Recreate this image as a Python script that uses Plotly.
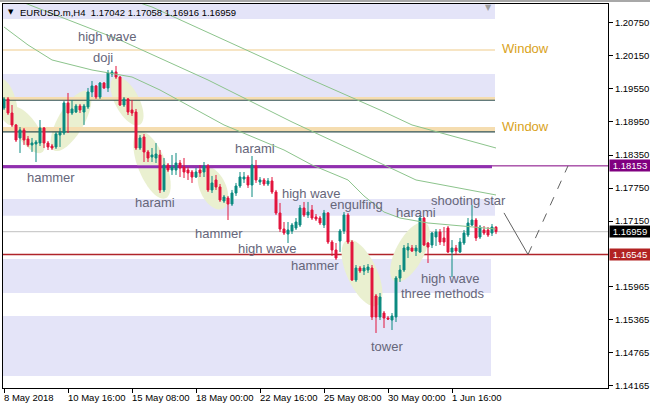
import math
import plotly.graph_objects as go

# ---------------- data ----------------
bars = list(range(124))
opens = [1.19203,1.19366,1.19112,1.18895,1.18659,1.18804,1.18641,1.18532,1.18550,1.18568,
         1.18840,1.18568,1.18514,1.18496,1.18713,1.18749,1.19294,1.19112,1.19130,1.19239,
         1.19130,1.19221,1.19493,1.19602,1.19402,1.19656,1.19566,1.19820,1.19856,1.19765,
         1.19257,1.19366,1.19167,1.19130,1.18477,1.18677,1.18405,1.18314,1.18296,1.18350,
         1.17716,1.18169,1.18078,1.18078,1.18205,1.18133,1.18078,1.18042,1.17951,1.18078,
         1.18042,1.18151,1.17716,1.17897,1.17770,1.17516,1.17570,1.17461,1.17661,1.17788,
         1.17915,1.17951,1.17806,1.18151,1.17861,1.17897,1.17824,1.17879,1.17679,1.17298,
         1.17008,1.16917,1.16972,1.17026,1.17080,1.17389,1.17262,1.17353,1.17226,1.17207,
         1.17080,1.17298,1.16772,1.16627,1.16790,1.16972,1.17262,1.16772,1.16083,1.16300,
         1.16246,1.16264,1.16300,1.15793,1.15412,1.15484,1.15393,1.15357,1.15412,1.16119,
         1.16264,1.16627,1.16663,1.16609,1.16591,1.17207,1.16754,1.16718,1.16863,1.16954,
         1.16845,1.17026,1.16591,1.16663,1.16591,1.16754,1.16899,1.17080,1.17171,1.16863,
         1.16990,1.16990,1.16935,1.17042]
highs = [1.19402,1.19402,1.19257,1.18913,1.18858,1.18840,1.18695,1.18659,1.18622,1.18985,
         1.18858,1.18604,1.18550,1.18768,1.18840,1.19330,1.19475,1.19348,1.19276,1.19276,
         1.19276,1.19566,1.19693,1.19620,1.19674,1.19674,1.19892,1.19892,1.19965,1.19783,
         1.19402,1.19384,1.19348,1.19185,1.18713,1.18731,1.18441,1.18477,1.18568,1.18441,
         1.18296,1.18205,1.18350,1.18387,1.18260,1.18296,1.18133,1.18078,1.18115,1.18169,
         1.18223,1.18187,1.17970,1.17988,1.17824,1.17625,1.17607,1.17716,1.17843,1.18042,
         1.18042,1.17988,1.18332,1.18260,1.17951,1.17933,1.17933,1.17951,1.17716,1.17480,
         1.17135,1.17135,1.17117,1.17207,1.17443,1.17498,1.17498,1.17443,1.17280,1.17244,
         1.17353,1.17316,1.16808,1.16754,1.17008,1.17316,1.17298,1.16808,1.16355,1.16337,
         1.16355,1.16373,1.16355,1.15829,1.15847,1.15520,1.15430,1.15484,1.16155,1.16355,
         1.16718,1.16754,1.16718,1.16718,1.17262,1.17226,1.16772,1.16954,1.17008,1.17008,
         1.17044,1.17062,1.16808,1.16718,1.16845,1.16990,1.17207,1.17443,1.17207,1.17080,
         1.17062,1.17044,1.17099,1.17058]
lows = [1.19167,1.19076,1.18858,1.18586,1.18387,1.18532,1.18496,1.18405,1.18223,1.18514,
        1.18477,1.18441,1.18441,1.18459,1.18496,1.18713,1.18749,1.19076,1.19112,1.19112,
        1.18895,1.19185,1.19402,1.19366,1.19366,1.19548,1.19493,1.19765,1.19729,1.19239,
        1.19221,1.19076,1.19058,1.18441,1.18441,1.18223,1.18223,1.18223,1.18205,1.17661,
        1.17679,1.18042,1.17988,1.17988,1.17951,1.17933,1.17897,1.17843,1.17933,1.17951,
        1.17951,1.17679,1.17661,1.17716,1.17498,1.17480,1.17171,1.17425,1.17607,1.17752,
        1.17843,1.17752,1.17588,1.17843,1.17806,1.17788,1.17788,1.17643,1.17262,1.16954,
        1.16899,1.16754,1.16917,1.16990,1.17044,1.17226,1.17207,1.17171,1.17153,1.17080,
        1.17026,1.16736,1.16518,1.16446,1.16591,1.16917,1.16736,1.16065,1.16047,1.16210,
        1.16173,1.16210,1.15357,1.15122,1.15357,1.15212,1.15357,1.15176,1.15321,1.16047,
        1.16228,1.16482,1.16591,1.16518,1.16573,1.16700,1.16391,1.16663,1.16700,1.16718,
        1.16700,1.16573,1.16137,1.16554,1.16573,1.16718,1.16863,1.17062,1.16790,1.16827,
        1.16899,1.16863,1.16881,1.16916]
closes = [1.19366,1.19112,1.18895,1.18622,1.18804,1.18622,1.18532,1.18568,1.18586,1.18840,
          1.18568,1.18496,1.18477,1.18731,1.18768,1.19294,1.19112,1.19185,1.19239,1.19167,
          1.19239,1.19493,1.19602,1.19402,1.19656,1.19566,1.19838,1.19856,1.19765,1.19257,
          1.19366,1.19130,1.19112,1.18477,1.18659,1.18405,1.18296,1.18350,1.18368,1.17716,
          1.18169,1.18078,1.18133,1.18205,1.18115,1.18042,1.18024,1.17951,1.18042,1.18024,
          1.18151,1.17716,1.17843,1.17770,1.17534,1.17588,1.17461,1.17661,1.17788,1.17951,
          1.17951,1.17806,1.18169,1.17897,1.17897,1.17824,1.17879,1.17679,1.17298,1.17008,
          1.16935,1.16990,1.17080,1.17135,1.17389,1.17262,1.17316,1.17207,1.17189,1.17117,
          1.17298,1.16772,1.16627,1.16482,1.16972,1.17262,1.16772,1.16083,1.16300,1.16246,
          1.16300,1.16318,1.15412,1.15412,1.15774,1.15393,1.15375,1.15430,1.16119,1.16264,
          1.16663,1.16681,1.16609,1.16663,1.17207,1.16718,1.16681,1.16935,1.16954,1.16772,
          1.16772,1.16591,1.16663,1.16609,1.16772,1.16935,1.17117,1.17171,1.16845,1.17044,
          1.16935,1.16899,1.17044,1.16959]

# moving averages (vertices)
ma_fast_bars = [0, 6, 12, 22, 32, 39, 55, 63, 70, 77, 86, 90, 95, 99, 106, 123]
ma_fast_vals = [1.20672, 1.20346, 1.20074, 1.19892, 1.19765, 1.19529, 1.18895, 1.18659,
                1.18441, 1.18169, 1.17897, 1.17607, 1.17316, 1.17207, 1.17117, 1.17008]
ma_mid_bars = [0, 29, 51, 72, 94, 103, 123]
ma_mid_vals = [1.21253, 1.20436, 1.19711, 1.18949, 1.18205, 1.17897, 1.17625]
ma_slow_bars = [31, 37, 77, 94, 102, 123]
ma_slow_vals = [1.21180, 1.21035, 1.19711, 1.19167, 1.18895, 1.18477]

# projection
proj_bars = [125, 131, 141]
proj_prices = [1.17300, 1.16545, 1.18153]

tick_bars = [0, 16, 32, 48, 64, 80, 96, 112]
tick_labels = ["8 May 2018", "10 May 16:00", "15 May 08:00", "18 May 00:00",
               "22 May 16:00", "25 May 08:00", "30 May 00:00", "1 Jun 16:00"]
y_ticks = [1.20750, 1.20150, 1.19550, 1.18950, 1.18350, 1.17750, 1.17150,
           1.15965, 1.15365, 1.14765, 1.14165]

level_purple = 1.18153
level_last = 1.16959
level_red = 1.16545

# zones
lav_zones = [(1.20817, 1.22000, 122.75), (1.19402, 1.19820, 122.75), (1.17249, 1.17552, 122.75),
             (1.15847, 1.16464, 121.75), (1.14341, 1.15430, 121.75)]
wheat_zones = [(1.19348, 1.19402), (1.18777, 1.18858)]
dark_lines = [1.19343, 1.18768]
window_line = 1.20255

patterns = [("high wave", 25.75, 1.20491), ("doji", 24.75, 1.20110), ("hammer", 11.75, 1.17951),
            ("harami", 37.75, 1.17480), ("harami", 62.75, 1.18477), ("hammer", 53.75, 1.16935),
            ("high wave", 65.75, 1.16663), ("high wave", 76.75, 1.17661), ("engulfing", 88.0, 1.17461),
            ("hammer", 77.75, 1.16337), ("harami", 103.0, 1.17316), ("shooting star", 116.0, 1.17534),
            ("high wave", 111.5, 1.16119), ("three methods", 109.75, 1.15847), ("tower", 95.75, 1.14868)]

# ellipses: centre bar, centre price, half-width px, half-height px, tilt deg
ellipses = [(0.5, 1.19312, 10, 24, -15), (5.75, 1.18804, 11, 27, -34), (16.75, 1.18967, 13, 34, 30),
            (30.75, 1.19330, 12, 27, -28), (37.0, 1.18169, 14, 36, -22), (52.25, 1.17752, 13, 23, -25),
            (89.5, 1.16210, 15, 36, -25), (101.5, 1.16590, 14, 33, 28)]

# ---------------- figure ----------------
W, H = 650, 409
ML, MR, MT, MB = 3, 42, 4, 21
XR = [-0.25, 151.0]
YR = [1.14124, 1.21089]
pw, ph = W - ML - MR, H - MT - MB
px_bar = pw / (XR[1] - XR[0])
px_price = ph / (YR[1] - YR[0])

TEAL = "#0B8A80"
RED = "#E2143C"
LAV = "#E4E4F8"
WHEAT = "#F5DDB0"
TXT = "#66667A"
FONT = "Liberation Sans, Arial, sans-serif"

fig = go.Figure()

shapes = []
for y0, y1, xr in lav_zones:
    shapes.append(dict(type="rect", xref="x", yref="y", x0=-5, x1=xr, y0=y0, y1=y1,
                       fillcolor=LAV, line_width=0, layer="below"))
for cb, cp, a, b, ang in ellipses:
    th = math.radians(ang)
    pts = []
    for k in range(48):
        t = 2 * math.pi * k / 48
        u, v = a * math.cos(t), b * math.sin(t)
        dx = u * math.cos(th) - v * math.sin(th)
        dy = u * math.sin(th) + v * math.cos(th)
        pts.append((cb + dx / px_bar, cp - dy / px_price))
    path = "M" + " L".join(f"{x:.4f},{y:.6f}" for x, y in pts) + " Z"
    shapes.append(dict(type="path", xref="x", yref="y", path=path,
                       fillcolor="rgb(234,240,208)", line_width=0, layer="below"))
for y0, y1 in wheat_zones:
    shapes.append(dict(type="rect", xref="x", yref="y", x0=-5, x1=122.75, y0=y0, y1=y1,
                       fillcolor=WHEAT, line_width=0, layer="below"))
shapes.append(dict(type="line", xref="x", yref="y", x0=-5, x1=122.75, y0=window_line, y1=window_line,
                   line=dict(color=WHEAT, width=1.5), layer="below"))
for yv in dark_lines:
    shapes.append(dict(type="line", xref="x", yref="y", x0=-5, x1=122.75, y0=yv, y1=yv,
                       line=dict(color="#2F4F4F", width=1.2), layer="below"))
shapes.append(dict(type="line", xref="x", yref="y", x0=-5, x1=122.0, y0=level_purple - 0.00016,
                   y1=level_purple - 0.00016, line=dict(color="#9030B0", width=3), layer="below"))
shapes.append(dict(type="line", xref="paper", yref="y", x0=0, x1=1, y0=level_purple, y1=level_purple,
                   line=dict(color="#800080", width=1), layer="below"))
shapes.append(dict(type="line", xref="paper", yref="y", x0=0, x1=1, y0=level_last, y1=level_last,
                   line=dict(color="#C0C0C0", width=1), layer="below"))
shapes.append(dict(type="line", xref="paper", yref="y", x0=0, x1=1, y0=level_red, y1=level_red,
                   line=dict(color="#B0242A", width=1.5), layer="below"))
# top window strip
shapes.append(dict(type="rect", xref="paper", yref="paper", x0=-0.01, x1=1.1,
                   y0=1 + 2 / ph, y1=1 + 4 / ph, fillcolor="#A8A8A8", line_width=0))

for xs, ys in [(ma_slow_bars, ma_slow_vals), (ma_mid_bars, ma_mid_vals), (ma_fast_bars, ma_fast_vals)]:
    fig.add_trace(go.Scatter(x=xs, y=ys, mode="lines", line=dict(color="#8CC48C", width=1),
                             hoverinfo="skip", showlegend=False, cliponaxis=True))

fig.add_trace(go.Scatter(x=proj_bars[:2], y=proj_prices[:2], mode="lines",
                         line=dict(color="#606060", width=1), hoverinfo="skip", showlegend=False))
fig.add_trace(go.Scatter(x=proj_bars[1:], y=proj_prices[1:], mode="lines",
                         line=dict(color="#606060", width=1, dash="dash"), hoverinfo="skip", showlegend=False))

fig.add_trace(go.Candlestick(
    x=bars, open=opens, high=highs, low=lows, close=closes,
    increasing=dict(line=dict(color=TEAL, width=1), fillcolor=TEAL),
    decreasing=dict(line=dict(color=RED, width=1), fillcolor=RED),
    whiskerwidth=0, showlegend=False, hoverinfo="skip"))

ann = []
for txt, xb, yp in patterns:
    ann.append(dict(x=xb, y=yp, xref="x", yref="y", text=txt, showarrow=False,
                    font=dict(family=FONT, size=13, color=TXT)))
for yv in [1.20273, 1.18876]:
    ann.append(dict(x=124, y=yv, xref="x", yref="y", text="Window", showarrow=False,
                    xanchor="left", font=dict(family=FONT, size=13, color="#D9A21B")))
for tb, tl in zip(tick_bars, tick_labels):
    ann.append(dict(x=tb, y=-9 / ph, xref="x", yref="paper", text=tl, showarrow=False,
                    xanchor="left", yanchor="middle", xshift=-2,
                    font=dict(family=FONT, size=9.5, color="black")))
for lv, col in [(level_purple, "#800080"), (level_last, "#000000"), (level_red, "#B22222")]:
    ann.append(dict(x=1, y=lv, xref="paper", yref="y", text=f"{lv:.5f}", showarrow=False,
                    xanchor="left", yanchor="middle", xshift=1, bgcolor=col, borderpad=0,
                    width=40, height=11, align="center",
                    font=dict(family=FONT, size=9.5, color="white")))
ann.append(dict(x=3 / pw, y=1 - 8 / ph, xref="paper", yref="paper", text="▼", showarrow=False,
                xanchor="left", yanchor="middle", font=dict(family="DejaVu Sans", size=7, color="black")))
ann.append(dict(x=15 / pw, y=1 - 8 / ph, xref="paper", yref="paper",
                text="EURUSD.m,H4&nbsp;&nbsp;1.17042 1.17058 1.16916 1.16959", showarrow=False,
                xanchor="left", yanchor="middle", font=dict(family=FONT, size=9.5, color="black")))
# chart-shift marker at the top
ann.append(dict(x=121, y=1 - 3 / ph, xref="x", yref="paper", text="▼", showarrow=False,
                xanchor="center", yanchor="middle", font=dict(family="DejaVu Sans", size=8, color="#A0A0A0")))

fig.update_layout(
    width=W, height=H, margin=dict(l=ML, r=MR, t=MT, b=MB, autoexpand=False),
    paper_bgcolor="white", plot_bgcolor="white",
    shapes=shapes, annotations=ann, showlegend=False,
    xaxis=dict(range=XR, showgrid=False, zeroline=False, rangeslider=dict(visible=False),
               tickvals=tick_bars, showticklabels=False, ticks="outside", ticklen=4,
               tickcolor="black", showline=True, mirror=True, linecolor="black", linewidth=1,
               automargin=False),
    yaxis=dict(range=YR, side="right", showgrid=False, zeroline=False,
               tickvals=y_ticks, ticktext=[f"{v:.5f}" for v in y_ticks],
               ticks="outside", ticklen=4, tickcolor="black",
               tickfont=dict(family=FONT, size=9.5, color="black"),
               showline=True, mirror=True, linecolor="black", linewidth=1,
               automargin=False),
)

fig.write_html("out.html", config={"displayModeBar": False},
               post_script="document.body.style.margin='0px';document.body.style.overflow='hidden';")
